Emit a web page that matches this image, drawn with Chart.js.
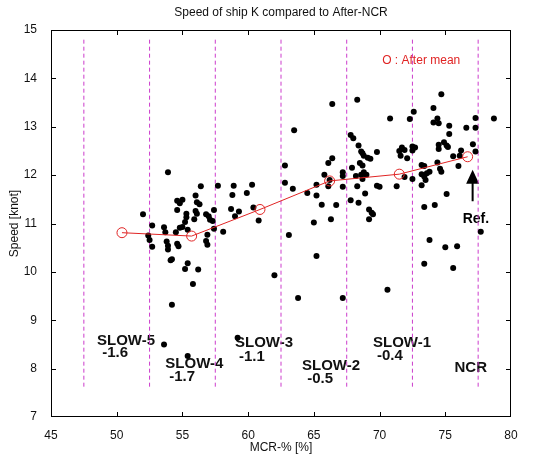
<!DOCTYPE html>
<html>
<head>
<meta charset="utf-8">
<title>Speed of ship K</title>
<script src="https://cdn.jsdelivr.net/npm/chart.js@4.4.1/dist/chart.umd.min.js"></script>
<style>
  html, body { margin: 0; padding: 0; background: #fff; }
</style>
</head>
<body>
<canvas id="speedChart" width="550" height="460"></canvas>
<script>
// Measured samples: engine load (MCR-%) and speed through water
const mcr = [
    53.9, 52.0, 52.7, 52.4, 52.5, 52.7, 53.6, 53.7, 53.8, 53.9, 53.9, 54.1, 54.2, 54.5, 54.6, 54.7,
    54.8, 55.0, 55.2, 55.3, 55.4, 54.6, 54.6, 55.0, 54.8, 56.0, 56.4, 56.1, 56.3, 56.0, 56.1, 55.9,
    55.3, 56.8, 57.0, 57.1, 57.4, 57.3, 57.4, 56.9, 56.8, 56.9, 57.7, 58.1, 55.4, 55.2, 56.2, 55.8,
    54.2, 53.6, 55.4, 58.9, 60.3, 58.8, 59.9, 58.7, 59.3, 59.0, 60.4, 60.8, 62.0, 59.2, 63.1, 63.5,
    62.8, 62.8, 63.4, 64.5, 65.2, 65.6, 65.2, 65.8, 66.1, 66.4, 66.1, 66.7, 65.0, 66.3, 65.2, 63.8,
    67.2, 66.4, 68.3, 67.8, 68.0, 68.4, 68.6, 68.7, 68.8, 69.1, 69.3, 68.5, 68.7, 67.9, 67.2, 67.2,
    68.2, 68.8, 69.0, 68.7, 68.6, 67.2, 68.3, 68.9, 67.8, 68.4, 69.2, 69.5, 69.2, 66.2, 69.8, 69.8,
    70.0, 69.4, 70.8, 72.3, 72.6, 74.7, 74.1, 74.4, 74.5, 74.1, 75.3, 75.3, 76.6, 77.3, 77.3, 78.7,
    74.9, 75.1, 74.5, 74.5, 75.2, 77.1, 77.3, 76.2, 76.1, 75.6, 76.0, 71.5, 71.7, 71.9, 72.5, 72.7,
    72.5, 71.6, 72.1, 73.2, 73.4, 73.6, 73.2, 73.8, 73.4, 74.6, 74.7, 74.4, 72.5, 71.9, 73.5, 73.2,
    71.3, 75.1, 73.4, 74.2, 73.8, 73.4, 70.6, 75.0, 75.9, 75.6, 77.7
];
const speed = [
    12.06, 11.19, 10.96, 10.75, 10.66, 10.52, 10.92, 10.82, 10.63, 10.54, 10.46, 10.24, 10.26, 10.82, 10.58, 10.53,
    10.91, 10.93, 11.03, 11.13, 10.87, 11.28, 11.47, 11.49, 11.42, 11.58, 11.77, 11.44, 11.40, 11.26, 11.20, 11.09,
    11.20, 11.19, 11.15, 11.08, 11.28, 11.05, 10.89, 10.77, 10.64, 10.56, 11.78, 10.83, 10.18, 10.06, 10.05, 9.75,
    9.32, 8.50, 8.26, 11.78, 11.80, 11.59, 11.63, 11.30, 11.25, 11.15, 11.33, 11.06, 9.93, 8.64, 10.76, 12.93,
    12.20, 11.84, 11.72, 11.63, 11.58, 11.39, 11.80, 12.01, 12.25, 12.35, 11.77, 11.38, 11.02, 11.09, 10.33, 9.46,
    9.46, 13.47, 13.56, 12.83, 12.76, 12.61, 12.49, 12.45, 12.40, 12.36, 12.34, 12.25, 12.20, 12.15, 12.06, 11.98,
    11.98, 12.06, 12.01, 11.92, 12.01, 11.76, 11.77, 11.62, 11.48, 11.43, 11.29, 11.19, 11.09, 11.90, 12.48, 11.78,
    11.76, 11.22, 13.17, 13.16, 13.31, 13.67, 13.39, 13.17, 13.07, 13.09, 13.02, 12.85, 12.98, 13.18, 12.98, 13.17,
    12.68, 12.61, 12.63, 12.54, 12.58, 12.64, 12.49, 12.51, 12.40, 12.39, 12.19, 12.50, 12.57, 12.52, 12.59, 12.57,
    12.51, 12.40, 12.35, 12.21, 12.19, 12.04, 12.02, 12.07, 11.97, 12.13, 12.07, 12.26, 11.92, 11.96, 11.90, 11.79,
    11.77, 11.61, 11.34, 11.38, 10.66, 10.17, 9.63, 10.51, 10.53, 10.08, 10.83
];

// Mean of each load band after the NCR correction
const meanMcr = [50.4, 55.7, 60.9, 66.2, 71.5, 76.7];
const meanSpeed = [10.81, 10.74, 11.29, 11.88, 12.02, 12.38];

// Band borders and band names with their speed loss
const zoneEdges = [47.5, 52.5, 57.5, 62.5, 67.5, 72.5, 77.5];
const zoneNames = ['SLOW-5', 'SLOW-4', 'SLOW-3', 'SLOW-2', 'SLOW-1', 'NCR'];
const zoneLoss = ['-1.6', '-1.7', '-1.1', '-0.5', '-0.4', ''];

const xTicks = [45, 50, 55, 60, 65, 70, 75, 80];
const yTicks = [7, 8, 9, 10, 11, 12, 13, 14, 15];

const FONT = '"Liberation Sans", Arial, Helvetica, sans-serif';
const RED = '#e02424';
const PINK = '#cc3ccc';

// where the band labels sit (left edge, middle line), in axis units
const nameAt = [[48.5, 8.58], [53.7, 8.10], [59.0, 8.54], [64.1, 8.06], [69.5, 8.53], [75.7, 8.01]];
const lossAt = [[48.9, 8.32], [54.0, 7.83], [59.3, 8.25], [64.5, 7.79], [69.8, 8.26], null];

const edgeSets = zoneEdges.map(e => ({
    type: 'line',
    data: [{ x: e, y: 14.8 }, { x: e, y: 7.6 }],
    borderColor: PINK,
    borderWidth: 1,
    borderDash: [4, 3],
    pointRadius: 0,
    order: 3
}));

// box, inward ticks and the text drawn inside the axes
const frame = {
    id: 'frame',
    beforeDatasetsDraw(chart) {
        const { ctx, scales: { x, y } } = chart;
        ctx.save();
        ctx.fillStyle = '#111';
        ctx.font = 'bold 15px ' + FONT;
        ctx.textAlign = 'left';
        ctx.textBaseline = 'middle';
        zoneNames.forEach((name, i) => {
            ctx.fillText(name, x.getPixelForValue(nameAt[i][0]), y.getPixelForValue(nameAt[i][1]));
            if (lossAt[i]) {
                ctx.fillText(zoneLoss[i], x.getPixelForValue(lossAt[i][0]), y.getPixelForValue(lossAt[i][1]));
            }
        });

        // reference arrow pointing at the NCR mean
        const ax = x.getPixelForValue(77.08);
        const tip = y.getPixelForValue(12.11);
        const tail = y.getPixelForValue(11.46);
        ctx.fillStyle = '#000';
        ctx.beginPath();
        ctx.moveTo(ax, tip);
        ctx.lineTo(ax - 6.5, tip + 14);
        ctx.lineTo(ax + 6.5, tip + 14);
        ctx.closePath();
        ctx.fill();
        ctx.fillRect(ax - 1, tip + 13, 2, tail - tip - 13);
        ctx.font = 'bold 14px ' + FONT;
        ctx.textAlign = 'center';
        ctx.fillText('Ref.', x.getPixelForValue(77.33), y.getPixelForValue(11.1));

        ctx.fillStyle = RED;
        ctx.font = '12px ' + FONT;
        ctx.textAlign = 'left';
        ctx.fillText('O : After mean', x.getPixelForValue(70.2), y.getPixelForValue(14.36));
        ctx.restore();
    },
    afterDraw(chart) {
        const { ctx, chartArea: a, scales: { x, y } } = chart;
        ctx.save();
        ctx.strokeStyle = '#000';
        ctx.lineWidth = 1;
        ctx.strokeRect(a.left + 0.5, a.top + 0.5, a.width - 1, a.height - 1);
        ctx.beginPath();
        xTicks.slice(1, -1).forEach(v => {
            const px = Math.round(x.getPixelForValue(v)) + 0.5;
            ctx.moveTo(px, a.bottom); ctx.lineTo(px, a.bottom - 5);
            ctx.moveTo(px, a.top); ctx.lineTo(px, a.top + 5);
        });
        yTicks.slice(1, -1).forEach(v => {
            const py = Math.round(y.getPixelForValue(v)) + 0.5;
            ctx.moveTo(a.left, py); ctx.lineTo(a.left + 5, py);
            ctx.moveTo(a.right, py); ctx.lineTo(a.right - 5, py);
        });
        ctx.stroke();

        ctx.fillStyle = '#111';
        ctx.font = '12px ' + FONT;
        ctx.textAlign = 'center';
        ctx.textBaseline = 'middle';
        ctx.fillText('Speed of ship K compared to After-NCR', (a.left + a.right) / 2, 13);
        ctx.restore();
    }
};

new Chart(document.getElementById('speedChart'), {
    type: 'scatter',
    data: {
        datasets: [
            {
                type: 'line',
                data: meanMcr.map((m, i) => ({ x: m, y: meanSpeed[i] })),
                borderColor: RED,
                borderWidth: 1,
                pointRadius: 5,
                pointBorderWidth: 1,
                pointBorderColor: RED,
                pointBackgroundColor: 'rgba(255,255,255,0)',
                order: 1
            },
            {
                data: mcr.map((m, i) => ({ x: m, y: speed[i] })),
                pointRadius: 3,
                pointBorderWidth: 0,
                pointBackgroundColor: '#000',
                order: 2
            },
            ...edgeSets
        ]
    },
    options: {
        responsive: false,
        animation: false,
        devicePixelRatio: 1,
        layout: { padding: { top: 30, right: 39, left: 0, bottom: 0 } },
        plugins: {
            legend: { display: false },
            tooltip: { enabled: false }
        },
        scales: {
            x: {
                type: 'linear',
                min: 45,
                max: 80,
                afterFit: s => { s.height = 43; },
                afterBuildTicks: s => { s.ticks = xTicks.map(v => ({ value: v })); },
                grid: { display: false },
                border: { display: false },
                ticks: { color: '#111', padding: 3, font: { size: 12, family: FONT } },
                title: {
                    display: true,
                    text: 'MCR-% [%]',
                    color: '#111',
                    font: { size: 12, family: FONT },
                    padding: { top: 0, bottom: 5 }
                }
            },
            y: {
                type: 'linear',
                min: 7,
                max: 15,
                afterFit: s => { s.width = 51; },
                afterBuildTicks: s => { s.ticks = yTicks.map(v => ({ value: v })); },
                grid: { display: false },
                border: { display: false },
                ticks: { color: '#111', padding: 6, font: { size: 12, family: FONT } },
                title: {
                    display: true,
                    text: 'Speed [knot]',
                    color: '#111',
                    font: { size: 12, family: FONT },
                    padding: { top: 7, bottom: 0 }
                }
            }
        }
    },
    plugins: [frame]
});
</script>
</body>
</html>
